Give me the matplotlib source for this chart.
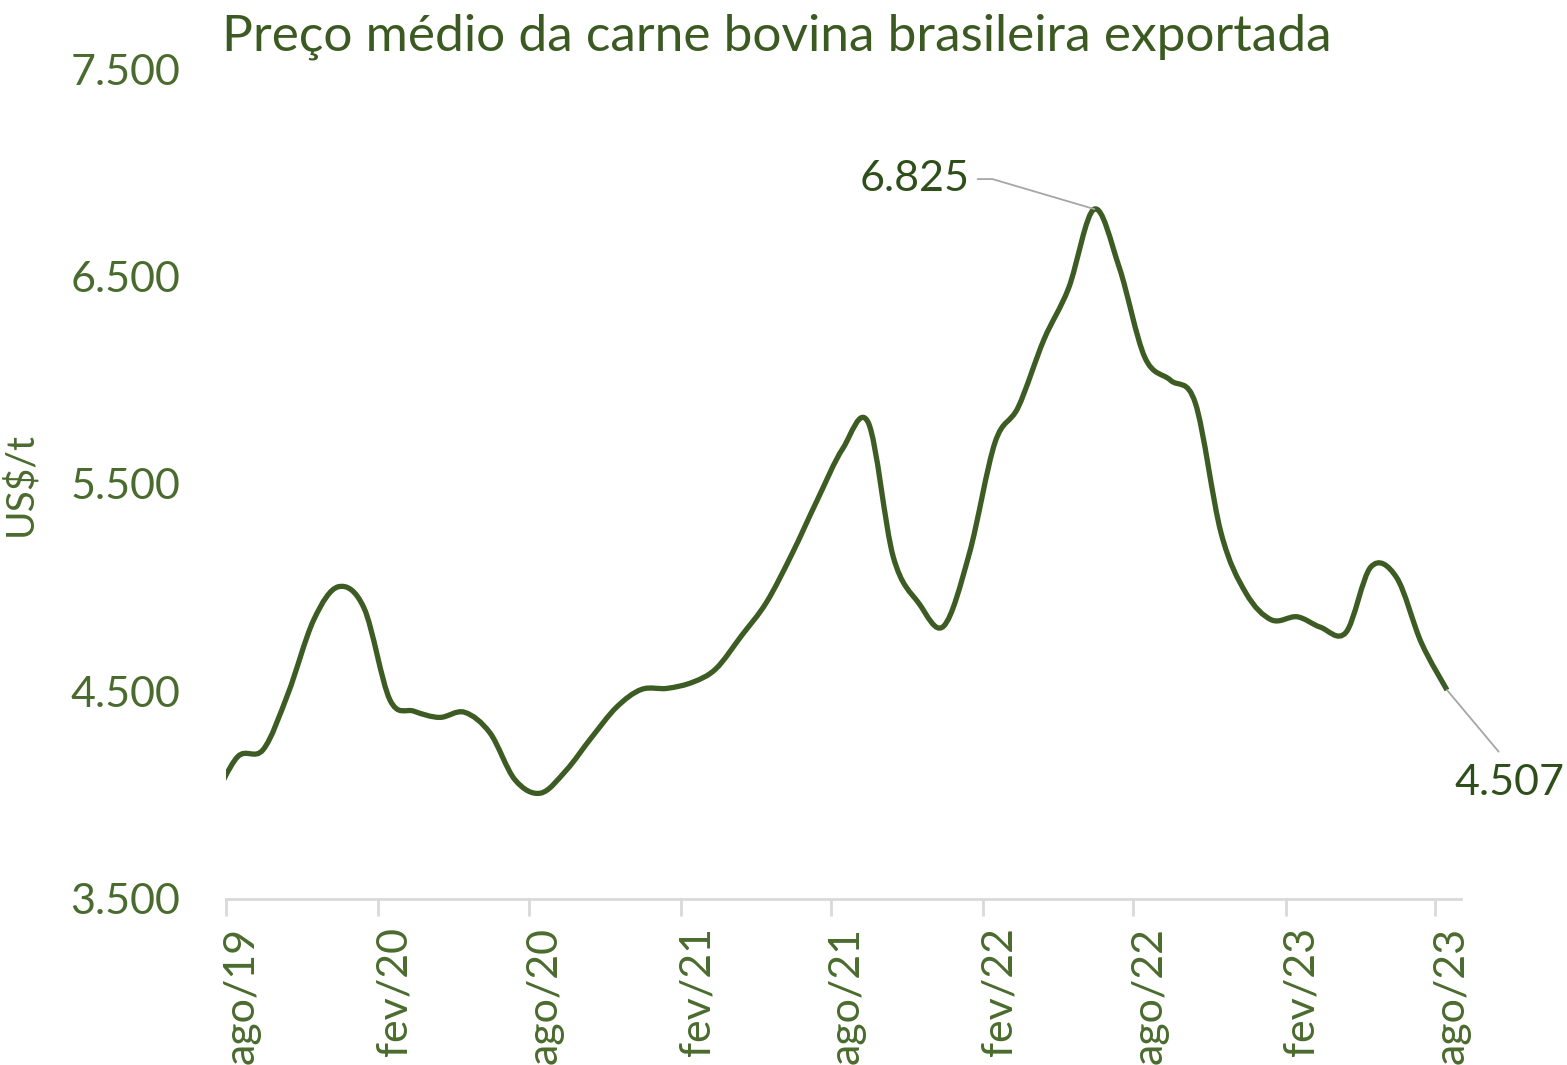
import matplotlib
matplotlib.use("Agg")
import matplotlib.pyplot as plt
import matplotlib.dates as mdates
import matplotlib.transforms as mtransforms
from matplotlib.path import Path
from matplotlib.patches import PathPatch
import numpy as np
import pandas as pd

# %%
# Dados: preço médio mensal (US$/t), jul/19 a ago/23
meses = pd.date_range("2019-07-01", periods=50, freq="MS") + pd.Timedelta(days=14)
precos = [3960, 4185, 4220, 4490, 4845, 5005, 4900, 4460, 4405, 4375,
          4400, 4300, 4075, 4010, 4120, 4275, 4425, 4510, 4515, 4545,
          4610, 4770, 4930, 5165, 5420, 5670, 5795, 5150, 4925, 4815,
          5165, 5700, 5870, 6195, 6445, 6825, 6545, 6110, 6000, 5890,
          5265, 4975, 4845, 4860, 4810, 4785, 5100, 5050, 4735, 4507]
ticks = pd.date_range("2019-08-01", "2023-08-01", freq="6MS")
tick_labels = ["ago/19", "fev/20", "ago/20", "fev/21", "ago/21",
               "fev/22", "ago/22", "fev/23", "ago/23"]
y_ticks = [3500, 4500, 5500, 6500, 7500]

verde = "#3D5C23"
verde_txt = "#4A6B2E"
plt.rcParams["font.family"] = ["Lato", "DejaVu Sans"]

# %%
fig = plt.figure(figsize=(15.67, 10.65), dpi=100)
ax = fig.add_axes([0.1442, 0.1559, 0.7882, 0.7793])

# linha suavizada (curvas de Bezier pelos pontos, como no Excel)
x = mdates.date2num(meses.to_pydatetime())
y = np.array(precos, dtype=float)
pts = np.column_stack([x, y])
verts = [pts[0]]
codes = [Path.MOVETO]
n = len(pts)
for i in range(n - 1):
    p0 = pts[max(i - 1, 0)]
    p1 = pts[i]
    p2 = pts[i + 1]
    p3 = pts[min(i + 2, n - 1)]
    verts += [p1 + (p2 - p0) / 6, p2 - (p3 - p1) / 6, p2]
    codes += [Path.CURVE4] * 3
ax.add_patch(PathPatch(Path(verts, codes), fill=False, edgecolor=verde,
                       lw=3.8, capstyle="butt", joinstyle="round"))

ax.set_xlim(mdates.date2num(pd.Timestamp("2019-08-01")),
            mdates.date2num(pd.Timestamp("2023-09-01")))
ax.set_ylim(3500, 7500)

ax.set_yticks(y_ticks)
ax.set_yticklabels([f"{v:,}".replace(",", ".") for v in y_ticks])
ax.set_xticks(mdates.date2num(ticks.to_pydatetime()))
ax.set_xticklabels(tick_labels, rotation=90)
ax.tick_params(axis="y", length=0, labelsize=31, labelcolor=verde_txt, pad=33)
ax.tick_params(axis="x", length=12, width=2, color="#D9D9D9", labelsize=31,
               labelcolor=verde_txt, pad=8, direction="out")
desloc = mtransforms.ScaledTranslation(0.16, 0, fig.dpi_scale_trans)
for lab in ax.get_xticklabels():
    lab.set_transform(lab.get_transform() + desloc)

for s in ["top", "right", "left"]:
    ax.spines[s].set_visible(False)
ax.spines["bottom"].set_color("#D9D9D9")
ax.spines["bottom"].set_linewidth(2)

ax.set_ylabel("US$/t", fontsize=28, color=verde_txt, labelpad=0)
ax.yaxis.set_label_coords(-0.152, 0.5)

fig.text(0.1417, 0.953, "Preço médio da carne bovina brasileira exportada",
         fontsize=37, color="#3B5A21", ha="left", va="baseline")

# rótulos de máximo e último valor
i_max = int(np.argmax(y))
ax.annotate(f"{precos[i_max]:,}".replace(",", "."), xy=(x[i_max], y[i_max]),
            xytext=(-125, 30), textcoords="offset pixels", fontsize=31,
            color="#2F4F1A", ha="right", va="center",
            arrowprops=dict(arrowstyle="-", color="#A6A6A6", lw=1.3,
                            connectionstyle="angle,angleA=0,angleB=-16.4,rad=0",
                            shrinkA=4, shrinkB=0))
ax.annotate(f"{precos[-1]:,}".replace(",", "."), xy=(x[-1], y[-1]),
            xytext=(62, -74), textcoords="offset pixels", fontsize=31,
            color="#2F4F1A", ha="center", va="top",
            arrowprops=dict(arrowstyle="-", color="#A6A6A6", lw=1.3,
                            relpos=(0.5, 1.0), shrinkA=9, shrinkB=0),
            annotation_clip=False)

fig.savefig("out.png", dpi=100)
